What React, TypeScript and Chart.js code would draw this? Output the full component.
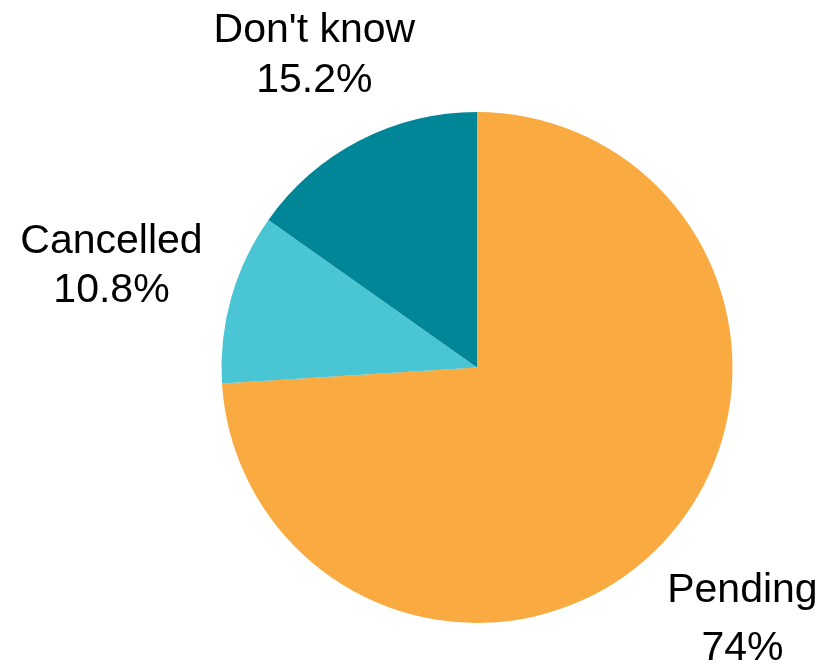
import React, { useEffect, useRef } from "react";
import { Chart, registerables } from "chart.js";

Chart.register(...registerables);

const categories = ["Pending", "Cancelled", "Don't know"];
const values = [74, 10.8, 15.2];
const valueLabels = ["74%", "10.8%", "15.2%"];
const colors = ["#F9AA41", "#49C5D3", "#008696"];

const labelPlugin = {
  id: "outsideLabels",
  afterDatasetsDraw(chart: any, _args: any, opts: any) {
    const ctx = chart.ctx;
    const meta = chart.getDatasetMeta(0);
    ctx.save();
    ctx.fillStyle = "#000000";
    ctx.font = "41px 'Liberation Sans', Arial, sans-serif";
    ctx.textAlign = "center";
    ctx.textBaseline = "alphabetic";
    meta.data.forEach((arc: any, i: number) => {
      const { x, y, startAngle, endAngle, outerRadius } = arc.getProps(
        ["x", "y", "startAngle", "endAngle", "outerRadius"],
        true
      );
      const mid = (startAngle + endAngle) / 2;
      const f = opts.factors[i];
      const gap = opts.gaps[i];
      const px = x + Math.cos(mid) * outerRadius * f;
      const py = y + Math.sin(mid) * outerRadius * f;
      ctx.fillText(categories[i], px, py - gap / 2 + 14);
      ctx.fillText(valueLabels[i], px, py + gap / 2 + 14);
    });
    ctx.restore();
  },
};

export default function App() {
  const ref = useRef<HTMLCanvasElement>(null);
  useEffect(() => {
    if (!ref.current) return;
    const chart = new Chart(ref.current, {
      type: "pie",
      data: {
        labels: categories,
        datasets: [
          {
            data: values,
            backgroundColor: colors,
            borderWidth: 0,
          },
        ],
      },
      options: {
        responsive: false,
        animation: false,
        layout: { padding: { top: 112, bottom: 43, left: 221.5, right: 98.5 } },
        plugins: {
          legend: { display: false },
          tooltip: { enabled: false },
          outsideLabels: { factors: [1.425, 1.487, 1.385], gaps: [58, 49, 50] },
        } as any,
      },
      plugins: [labelPlugin],
    });
    return () => chart.destroy();
  }, []);
  return (
    <div style={{ position: "fixed", left: 0, top: 0, width: 831, height: 666, background: "#fff" }}>
      <canvas ref={ref} width={831} height={666} />
    </div>
  );
}
